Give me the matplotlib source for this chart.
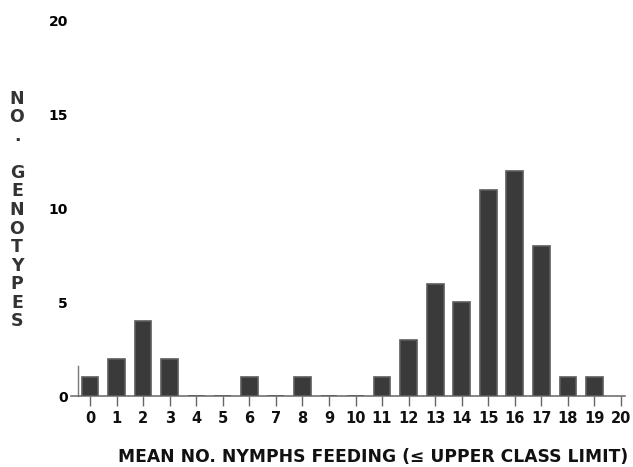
import matplotlib
matplotlib.use("Agg")
import matplotlib.pyplot as plt

categories = list(range(20))
counts = [1, 2, 4, 2, 0, 0, 1, 0, 1, 0, 0, 1, 3, 6, 5, 11, 12, 8, 1, 1]
xtick_labels = [str(i) for i in range(21)]
ytick_values = [0, 5, 10, 15, 20]
ylabel_letters = ["N", "O", ".", "", "G", "E", "N", "O", "T", "Y", "P", "E", "S"]
xlabel = "MEAN NO. NYMPHS FEEDING (\u2264 UPPER CLASS LIMIT)"

plt.rcParams['font.family'] = ['DejaVu Sans']
plt.rcParams['font.weight'] = 'bold'

fig = plt.figure(figsize=(6.33, 4.67), dpi=100)
ax = fig.add_axes([71.4 / 633, 71 / 467, 553.6 / 633, 375 / 467])

ax.bar(categories, counts, width=0.63, color='#3a3a3a', edgecolor='#5c5c5c',
       linewidth=1.2, zorder=3)

ax.set_xlim(-0.7, 20.15)
ax.set_ylim(0, 20)

ax.set_xticks(range(21))
ax.set_xticklabels(xtick_labels)
ax.set_yticks(ytick_values)
ax.set_yticklabels([str(v) for v in ytick_values])
for lab in ax.get_xticklabels():
    lab.set_fontsize(10.5)
    lab.set_fontweight('bold')
    lab.set_color('#111111')
for lab in ax.get_yticklabels():
    lab.set_fontsize(10.3)
    lab.set_fontweight('bold')
    lab.set_color('#444444')

ax.tick_params(axis='x', direction='out', length=7, width=1, color='#666666', pad=4)
ax.tick_params(axis='y', length=0, pad=7)

for s in ['top', 'right']:
    ax.spines[s].set_visible(False)
ax.spines['bottom'].set_color('#666666')
ax.spines['bottom'].set_linewidth(1.1)
ax.spines['left'].set_position(('data', -0.47))
ax.spines['left'].set_bounds(0, 1.6)
ax.spines['left'].set_color('#777777')
ax.spines['left'].set_linewidth(1.0)

fig.text(373 / 633, 1 - 457 / 467, xlabel, ha='center', va='center',
         fontsize=12.3, fontweight='bold', color='#111111')

fig.text(17 / 633, 1 - 210 / 467, "\n".join(ylabel_letters), ha='center', va='center',
         fontsize=12.5, fontweight='bold', color='#333333', linespacing=1.04)

fig.savefig("out.png", dpi=100)
